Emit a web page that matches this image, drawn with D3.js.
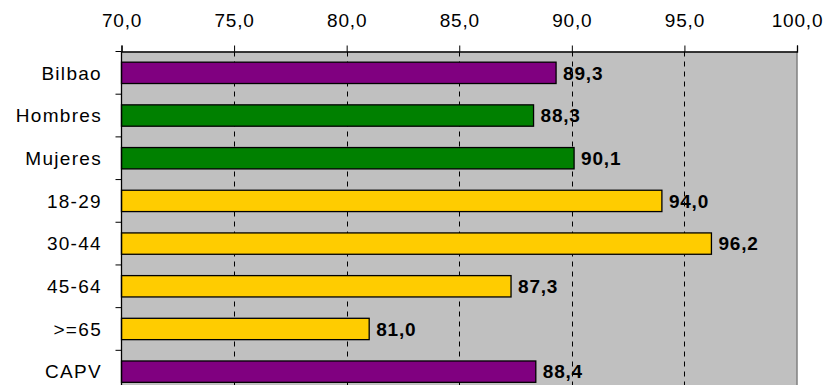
<!DOCTYPE html>
<html>
<head>
<meta charset="utf-8">
<script src="https://cdn.jsdelivr.net/npm/d3@7"></script>
<style>
  body { margin: 0; background: #fff; }
  text { font-family: Arial, "Liberation Sans", sans-serif; }
</style>
</head>
<body>
<svg width="826" height="385"></svg>
<script>
// chart data
var categories = ["Bilbao", "Hombres", "Mujeres", "18-29", "30-44", "45-64", ">=65", "CAPV"];
var values = [89.3, 88.3, 90.1, 94.0, 96.2, 87.3, 81.0, 88.4];
var groups = ["total", "sexo", "sexo", "edad", "edad", "edad", "edad", "total"];
var tickValues = [70, 75, 80, 85, 90, 95, 100];

var groupColor = { total: "#800080", sexo: "#008000", edad: "#FFCC00" };

var svg = d3.select("svg");
// note: "top" is a reserved window property, so use plotTop etc.
// the plot runs past the bottom edge of the picture (cropped like the original)
var plotLeft = 121.5, plotRight = 797, plotTop = 51.5, plotBottom = 393;

var x = d3.scaleLinear().domain([70, 100]).range([plotLeft, plotRight]);
var y = d3.scaleBand().domain(categories).range([plotTop, plotBottom]).paddingInner(0.5).paddingOuter(0.25);

var fmt = function(v) { return d3.format(".1f")(v).replace(".", ","); };

// plot background
svg.append("rect")
  .attr("x", plotLeft).attr("y", plotTop)
  .attr("width", plotRight - plotLeft).attr("height", plotBottom - plotTop)
  .attr("fill", "#C0C0C0");

// right border
svg.append("line")
  .attr("x1", plotRight).attr("x2", plotRight)
  .attr("y1", plotTop).attr("y2", plotBottom)
  .attr("stroke", "#808080").attr("stroke-width", 1.5);

// dashed grid
svg.append("g")
  .selectAll("line")
  .data(tickValues.filter(function(d) { return d > 70 && d < 100; }))
  .enter()
  .append("line")
  .attr("x1", function(d) { return Math.round(x(d)) + 0.5; })
  .attr("x2", function(d) { return Math.round(x(d)) + 0.5; })
  .attr("y1", plotTop).attr("y2", plotBottom)
  .attr("stroke", "#000")
  .attr("stroke-dasharray", "5,5");

// bars
svg.append("g")
  .selectAll("rect")
  .data(categories)
  .enter()
  .append("rect")
  .attr("x", x(70))
  .attr("y", function(d) { return y(d); })
  .attr("width", function(d, i) { return x(values[i]) - x(70); })
  .attr("height", y.bandwidth())
  .attr("fill", function(d, i) { return groupColor[groups[i]]; })
  .attr("stroke", "#000")
  .attr("stroke-width", 1.3);

// value labels
svg.append("g")
  .selectAll("text")
  .data(categories)
  .enter()
  .append("text")
  .attr("x", function(d, i) { return x(values[i]) + 7; })
  .attr("y", function(d) { return y(d) + y.bandwidth() / 2; })
  .attr("dy", "0.36em")
  .attr("font-size", 19)
  .attr("font-weight", "bold")
  .attr("letter-spacing", 0.8)
  .text(function(d, i) { return fmt(values[i]); });

// top axis
var xAxis = svg.append("g")
  .attr("transform", "translate(0," + plotTop + ")")
  .call(d3.axisTop(x).tickValues(tickValues).tickFormat(fmt).tickSize(6).tickPadding(19));
xAxis.select(".domain").attr("stroke", "#000").attr("stroke-width", 1.3);
xAxis.selectAll("text").attr("font-size", 19).attr("font-family", "Arial, 'Liberation Sans', sans-serif").attr("fill", "#000").attr("letter-spacing", 0.8);

// left axis: ticks at band boundaries
var step = y.step();
var bounds = d3.range(categories.length).map(function(i) { return plotTop + i * step; });
svg.append("g")
  .selectAll("line")
  .data(bounds)
  .enter()
  .append("line")
  .attr("x1", plotLeft - 6).attr("x2", plotLeft)
  .attr("y1", function(d) { return d; }).attr("y2", function(d) { return d; })
  .attr("stroke", "#000");
svg.append("line")
  .attr("x1", plotLeft).attr("x2", plotLeft)
  .attr("y1", plotTop).attr("y2", plotBottom)
  .attr("stroke", "#000").attr("stroke-width", 1.3);

// category labels
svg.append("g")
  .selectAll("text")
  .data(categories)
  .enter()
  .append("text")
  .attr("x", 102)
  .attr("y", function(d) { return y(d) + y.bandwidth() / 2; })
  .attr("dy", "0.36em")
  .attr("text-anchor", "end")
  .attr("font-size", 19)
  .attr("letter-spacing", 1.3)
  .text(function(d) { return d; });
</script>
</body>
</html>
